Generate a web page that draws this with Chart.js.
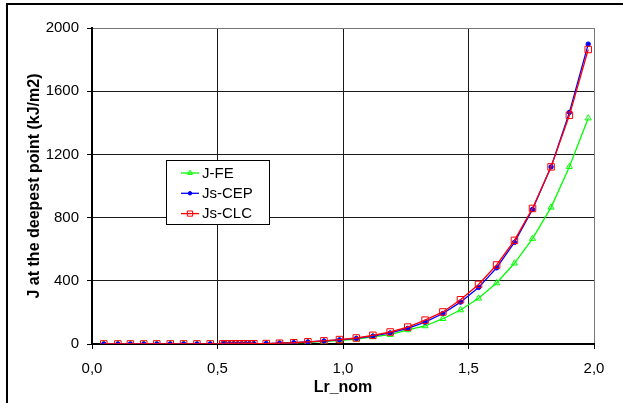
<!DOCTYPE html>
<html>
<head>
<meta charset="utf-8">
<script src="https://cdn.jsdelivr.net/npm/chart.js@4/dist/chart.umd.min.js"></script>
<style>
  html, body { margin: 0; padding: 0; background: #fff; }
  #wrap { position: relative; width: 623px; height: 403px; overflow: hidden; }
  #frame { position: absolute; left: 6px; top: 3px; width: 700px; height: 500px;
           border-left: 2px solid #000; border-top: 2px solid #000; box-sizing: border-box; }
  #c { position: absolute; left: 0; top: 0; }
</style>
</head>
<body>
<div id="wrap">
  <div id="frame"></div>
  <canvas id="c" width="623" height="403"></canvas>
</div>
<script>
// Normalised load ratio at each evaluation step
const lrNom = [0.047, 0.103, 0.153, 0.206, 0.258, 0.312, 0.365, 0.418, 0.471,
  0.521, 0.530, 0.548, 0.565, 0.581, 0.597, 0.613, 0.627, 0.645,
  0.694, 0.747, 0.804, 0.860, 0.924, 0.986, 1.053, 1.119, 1.188, 1.258,
  1.327, 1.398, 1.468, 1.540, 1.612, 1.683, 1.755, 1.829, 1.902, 1.977];

// J at the deepest point (kJ/m2)
const jFE = [0.2, 0.2, 0.2, 0.2, 0.3, 0.3, 0.3, 0.4, 0.4,
  0.8, 0.8, 0.9, 1.0, 1.1, 1.2, 1.3, 1.4, 1.5,
  2, 4, 7, 11, 16, 22, 31, 45, 59, 89,
  114, 160, 215, 289, 386, 511, 667, 865, 1122, 1429];

const jsCEP = [0.2, 0.2, 0.2, 0.2, 0.3, 0.3, 0.3, 0.4, 0.4,
  0.8, 0.8, 0.9, 1.0, 1.1, 1.2, 1.4, 1.5, 1.7,
  3, 5, 8, 13, 19, 26, 35, 50, 70, 99,
  138, 193, 265, 358, 482, 643, 852, 1121, 1466, 1898];

const jsCLC = [0.2, 0.2, 0.2, 0.2, 0.3, 0.3, 0.3, 0.4, 0.4,
  0.8, 0.8, 0.9, 1.0, 1.1, 1.2, 1.4, 1.5, 1.7,
  3, 5, 8, 14, 20, 28, 38, 55, 76, 107,
  151, 203, 280, 377, 500, 656, 858, 1121, 1448, 1864];

const seriesNames = ['J-FE', 'Js-CEP', 'Js-CLC'];
const xTicks = [0, 0.5, 1.0, 1.5, 2.0];
const yTicks = [0, 400, 800, 1200, 1600, 2000];

const FONT = '"Liberation Sans", Arial, sans-serif';

const pairs = vals => lrNom.map((x, i) => ({ x: x, y: vals[i] }));

const datasets = [
  { label: seriesNames[0], data: pairs(jFE), borderColor: '#00ff00',
    pointStyle: 'triangle', pointRadius: 3.5, pointBorderWidth: 1,
    pointBackgroundColor: 'rgba(255,255,255,0)', pointBorderColor: '#00ff00', order: 3 },
  { label: seriesNames[1], data: pairs(jsCEP), borderColor: '#0000ff',
    pointStyle: 'circle', pointRadius: 2.2, pointBorderWidth: 1,
    pointBackgroundColor: '#0000ff', pointBorderColor: '#0000ff', order: 2 },
  { label: seriesNames[2], data: pairs(jsCLC), borderColor: '#ff0000',
    pointStyle: 'rect', pointRadius: 4.6, pointBorderWidth: 1,
    pointBackgroundColor: 'rgba(255,255,255,0)', pointBorderColor: '#ff0000', order: 1 }
].map(d => Object.assign({ showLine: true, borderWidth: 1.3, tension: 0, fill: false }, d));

// Boxed legend sitting inside the plot area
const boxLegend = {
  id: 'boxLegend',
  afterDraw(chart) {
    const ctx = chart.ctx;
    const bx = 166.5, by = 160.5, bw = 103, bh = 64;
    ctx.save();
    ctx.fillStyle = '#fff';
    ctx.fillRect(bx, by, bw, bh);
    ctx.strokeStyle = '#000';
    ctx.lineWidth = 1;
    ctx.strokeRect(bx, by, bw, bh);
    ctx.font = '15px ' + FONT;
    ctx.textBaseline = 'middle';
    ctx.textAlign = 'left';
    chart.data.datasets.forEach((ds, i) => {
      const y = 173 + i * 20.3;
      ctx.strokeStyle = ds.borderColor;
      ctx.lineWidth = 1.3;
      ctx.beginPath();
      ctx.moveTo(181, y);
      ctx.lineTo(199, y);
      ctx.stroke();
      ctx.fillStyle = ds.pointBackgroundColor;
      ctx.strokeStyle = ds.pointBorderColor;
      ctx.lineWidth = ds.pointBorderWidth;
      Chart.helpers.drawPoint(ctx, {
        pointStyle: ds.pointStyle, radius: ds.pointRadius * 0.8,
        rotation: 0, borderWidth: ds.pointBorderWidth
      }, 190, y);
      ctx.fillStyle = '#000';
      ctx.fillText(ds.label, 202, y + 0.5);
    });
    ctx.restore();
  }
};

const fmtX = v => v.toFixed(1).replace('.', ',');

new Chart(document.getElementById('c'), {
  type: 'scatter',
  data: { datasets: datasets },
  plugins: [boxLegend],
  options: {
    responsive: false,
    animation: false,
    layout: { padding: { left: 0, top: 28, right: 29, bottom: 0 } },
    plugins: { legend: { display: false }, tooltip: { enabled: false } },
    scales: {
      x: {
        type: 'linear', min: 0, max: 2,
        afterBuildTicks: s => { s.ticks = xTicks.map(v => ({ value: v })); },
        afterFit: s => { s.height = 59; },
        ticks: { color: '#000', font: { family: FONT, size: 15 }, padding: 11,
                 maxRotation: 0, callback: v => fmtX(v) },
        grid: { color: c => (c.tick && c.tick.value === 2 ? '#777' : '#1a1a1a'),
                tickColor: '#000', lineWidth: 1, tickLength: 5 },
        border: { color: '#000', width: 2 },
        title: { display: true, text: 'Lr_nom', color: '#000',
                 font: { family: FONT, size: 16, weight: 'bold' },
                 padding: { top: 0, bottom: 6 } }
      },
      y: {
        min: 0, max: 2000,
        afterBuildTicks: s => { s.ticks = yTicks.map(v => ({ value: v })); },
        afterFit: s => { s.width = 92; },
        ticks: { color: '#000', font: { family: FONT, size: 15 }, padding: 8,
                 callback: v => String(v) },
        grid: { color: c => (c.tick && c.tick.value === 2000 ? '#777' : '#1a1a1a'),
                tickColor: '#000', lineWidth: 1, tickLength: 5 },
        border: { color: '#000', width: 2 },
        title: { display: true, text: 'J at the deepest point (kJ/m2)', color: '#000',
                 font: { family: FONT, size: 16, weight: 'bold' },
                 padding: { top: 25, bottom: 0 } }
      }
    }
  }
});
</script>
</body>
</html>
